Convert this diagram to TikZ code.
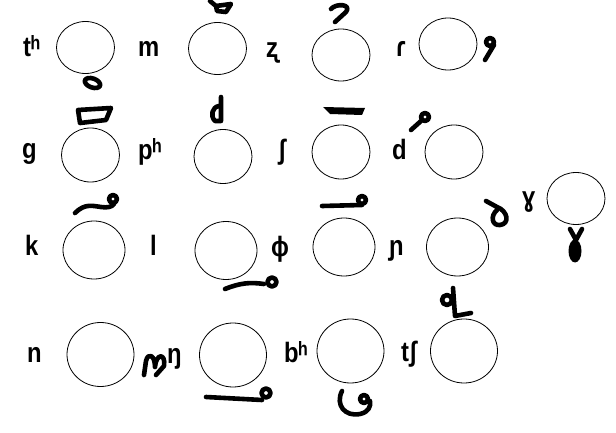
\documentclass[tikz,border=0pt]{standalone}
\usepackage{fontspec}
\setmainfont{Liberation Sans}
\newfontfamily\ipafont{Liberation Sans}[FakeStretch=0.85]
\usetikzlibrary{shapes.geometric}

\begin{document}
\begin{tikzpicture}[
  x=1pt,y=-1pt,
  ring/.style={ellipse,draw=black,line width=0.8pt,inner sep=0pt,minimum width=58pt,minimum height=52pt},
  midring/.style={ring,minimum width=62pt,minimum height=58pt},
  bigring/.style={ring,minimum width=67pt,minimum height=64pt},
  ipa/.style={anchor=base west,inner sep=0pt,font=\ipafont\bfseries\fontsize{28}{32}\selectfont},
  glyph/.style={line width=4.6pt,line cap=round,line join=round}
]
\useasboundingbox (0,0) rectangle (616,433);
% row 1
\node[ipa] (th) at (23,57) {tʰ};
\node[ring] (o11) at (85.5,47.5) {};
\node[ipa] (m) at (138,57) {m};
\node[ring] (o12) at (217.5,48.5) {};
\node[ipa] (zr) at (266,58) {ʐ};
\node[ring] (o13) at (341,55) {};
\node[ipa] (rr) at (396,57) {ɾ};
\node[ring] (o14) at (448,44) {};
% row 2
\node[ipa] (g) at (22,159) {g};
\node[ring,minimum height=54pt] (o21) at (90.5,155) {};
\node[ipa] (ph) at (138,160) {pʰ};
\node[ring,minimum height=54pt] (o22) at (223,156.5) {};
\node[ipa] (sh) at (278,160) {ʃ};
\node[ring,minimum height=54pt] (o23) at (341,152) {};
\node[ipa] (d) at (392,160) {d};
\node[ring,minimum height=54pt] (o24) at (454,152) {};
\node[ipa] (gh) at (522,207) {ɣ};
\node[ring] (o25) at (576,198.5) {};
% row 3
\node[ipa] (k) at (25,255) {k};
\node[midring] (o31) at (94,250) {};
\node[ipa] (l) at (150,255) {l};
\node[midring] (o32) at (226,250.5) {};
\node[ipa] (ph2) at (271,256) {ɸ};
\node[midring] (o33) at (344,247) {};
\node[ipa] (ny) at (389,255) {ɲ};
\node[midring] (o34) at (457.5,247) {};
% row 4
\node[ipa] (n) at (27,362) {n};
\node[bigring] (o41) at (100.5,354.5) {};
\node[ipa] (ng) at (167,363) {ŋ};
\node[bigring] (o42) at (233,355) {};
\node[ipa] (bh) at (284,362) {bʰ};
\node[bigring] (o43) at (350.5,351) {};
\node[ipa] (tsh) at (401,361) {tʃ};
\node[bigring] (o44) at (464,351) {};
% script marks
\draw[glyph] (210,1) -- (216,6) -- (231,4) -- (226,12) -- (217,11) -- (216,6);
\draw[glyph] (92.5,83) ellipse [x radius=8,y radius=4.5,rotate=-20];
\draw[glyph] (331,9) .. controls (336,3) and (352,4) .. (346,12) -- (335,22);
\draw[glyph] (490,42) circle (4); \draw[glyph] (494,45) -- (485,60);
\draw[glyph] (78,110) -- (111,108) -- (106,120) -- (80,123) -- cycle;
\draw[glyph] (221,97) -- (221,121) -- (215,121) .. controls (210,116) and (212,107) .. (219,106);
\fill (323,107) -- (365,108) -- (362,115) -- (330,114) -- cycle;
\draw[glyph] (425,117) circle (4); \draw[glyph] (421,121) -- (411,130);
\draw[glyph] (75,213) .. controls (85,203) and (93,206) .. (101,207) .. controls (107,208) and (112,207) .. (114,204);
\draw[glyph] (113,199) circle (4);
\draw[glyph] (225,289) .. controls (240,283) and (250,282) .. (264,284);
\draw[glyph] (272,282) circle (4.5);
\draw[glyph] (322,206) -- (362,205);
\draw[glyph] (362,200) circle (4);
\draw[glyph] (486,201) -- (497,207) .. controls (508,211) and (510,224) .. (500,225) .. controls (492,226) and (490,216) .. (497,210);
\fill (575,251) ellipse [x radius=6.5,y radius=11.5];
\draw[glyph] (570,229) -- (576,240) -- (582,229);
\draw[glyph] (144,375) -- (146,361) .. controls (148,352) and (155,355) .. (155,367) .. controls (156,353) and (166,353) .. (164,366) -- (156,375);
\draw[glyph] (206,397) -- (262,400);
\draw[glyph] (266,393) circle (4.5);
\draw[glyph] (342,391) .. controls (335,405) and (345,417) .. (360,414) .. controls (369,412) and (371,406) .. (370,401);
\draw[glyph] (364,399) circle (4);
\draw[glyph] (447,300) circle (5);
\draw[glyph] (453,288) -- (455,316) -- (471,313);
\end{tikzpicture}
\end{document}
